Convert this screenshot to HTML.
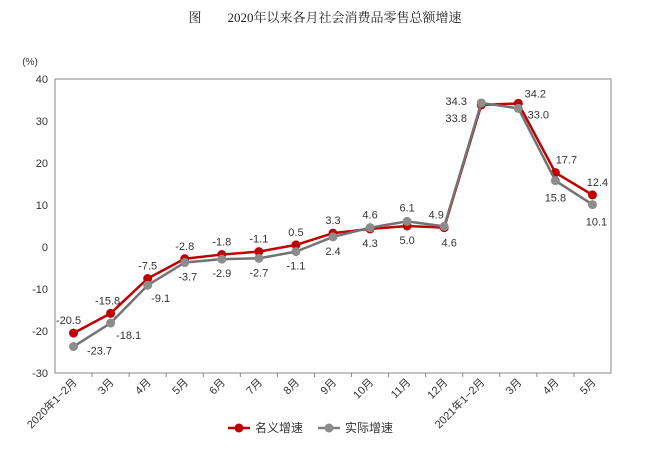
<!DOCTYPE html>
<html><head><meta charset="utf-8"><style>
body{margin:0;background:#fff;}
svg text{font-family:"Liberation Sans","Noto Sans CJK SC",sans-serif;fill:#333;}
</style></head><body>
<svg width="650" height="454" viewBox="0 0 650 454">
<text x="325" y="22" text-anchor="middle" style="font-family:'Liberation Serif','Noto Serif CJK SC',serif;font-size:13px;fill:#222">图　　2020年以来各月社会消费品零售总额增速</text>
<text x="30" y="65" font-size="10" text-anchor="middle">(%)</text>
<g id="axes"></g>
<g id="marks"></g>
<g>
<g>
<line x1="228" y1="428" x2="250" y2="428" stroke="#c00000" stroke-width="2.5"/><circle cx="239" cy="428" r="4.5" fill="#c00000"/>
<text x="255" y="432" font-size="12">名义增速</text></g>
<g>
<line x1="318" y1="428" x2="340" y2="428" stroke="#808080" stroke-width="2.5"/><circle cx="329" cy="428" r="4.5" fill="#8c8c8c"/>
<text x="345" y="432" font-size="12">实际增速</text></g>
</g>
</svg>
<script>
const categories=["2020年1−2月","3月","4月","5月","6月","7月","8月","9月","10月","11月","12月","2021年1−2月","3月","4月","5月"];
const nominal=[-20.5,-15.8,-7.5,-2.8,-1.8,-1.1,0.5,3.3,4.3,5.0,4.6,33.8,34.2,17.7,12.4];
const real=[-23.7,-18.1,-9.1,-3.7,-2.9,-2.7,-1.1,2.4,4.6,6.1,4.9,34.3,33.0,15.8,10.1];
const yTicks=[40,30,20,10,0,-10,-20,-30];
const nomDx=[-5,-3,0,0,0,0,0,0,0,0,5,-25,17,11,5];
const nomDy=[-9,-9,-9,-9,-9,-9,-9,-9,18,18,19,17,-6,-9,-9];
const realDx=[26,18,13,3,0,0,0,0,0,0,-8,-25,20,0,4];
const realDy=[8,16,17,18,18,18,18,18,-9,-10,-8,2,10,21,21];
const NS="http://www.w3.org/2000/svg";
const L=55,R=611,T=79,B=373,yMin=-30,yMax=40;
const bw=(R-L)/categories.length;
const xS=i=>L+bw*(i+0.5);
const yS=v=>B-(v-yMin)/(yMax-yMin)*(B-T);
function mk(tag,attrs,parent){const e=document.createElementNS(NS,tag);for(const k in attrs)e.setAttribute(k,attrs[k]);parent.appendChild(e);return e;}
const axes=document.getElementById('axes'),marks=document.getElementById('marks');
const frame=mk('rect',{x:L,y:T,width:R-L,height:B-T,fill:'none',stroke:'#888','stroke-width':1},axes);


yTicks.forEach(t=>{
 const tx=mk('text',{x:L-7,y:yS(t)+4,'text-anchor':'end','font-size':11},axes);
 tx.textContent=t;
 
 
});
categories.forEach((c,i)=>{
 if(i>0){const tk=mk('line',{x1:L+bw*i,y1:B,x2:L+bw*i,y2:B+4,stroke:'#888'},axes);
 
 }
 const x=xS(i)+4,y=B+10;
 const tx=mk('text',{x:x,y:y,'text-anchor':'end','font-size':11,transform:`rotate(-45 ${x} ${y})`},axes);
 tx.textContent=c;
 
 
});
function series(vals,line,dot,name,dx,dy){
 const g=mk('g',{},marks);
 
 
 const p=mk('polyline',{points:vals.map((v,i)=>xS(i)+','+yS(v)).join(' '),fill:'none',stroke:line,'stroke-width':2.5,'stroke-linejoin':'round'},g);
 
 
 vals.forEach((v,i)=>{
  const c=mk('circle',{cx:xS(i),cy:yS(v),r:4.5,fill:dot},g);
  
  
  const t=mk('text',{x:xS(i)+dx[i],y:yS(v)+dy[i],'text-anchor':'middle','font-size':11},g);
  t.textContent=v.toFixed(1);
  
  
 });
}
series(nominal,'#c00000','#c00000','nominal',nomDx,nomDy);
series(real,'#737373','#8c8c8c','real',realDx,realDy);
</script>
</body></html>
